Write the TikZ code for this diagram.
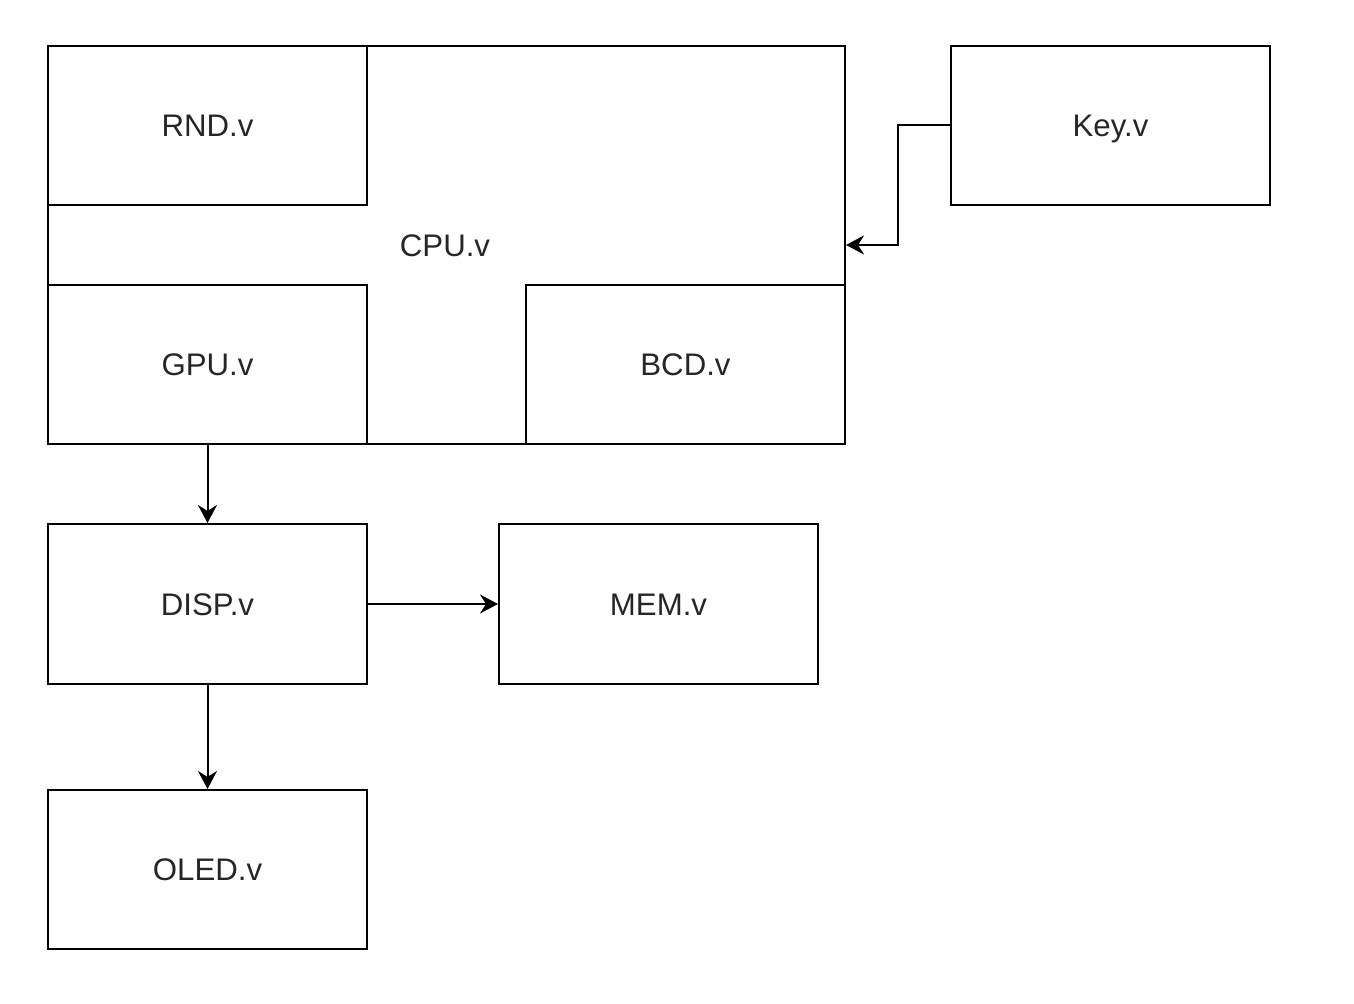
\documentclass[tikz,border=0pt]{standalone}
\usepackage{fontspec}
\setmainfont{Liberation Sans}
\usetikzlibrary{arrows.meta}
\begin{document}
\begin{tikzpicture}[x=0.5pt,y=-0.5pt,
  box/.style={draw=black,line width=1pt,inner sep=0pt,font=\fontsize{15.6}{18}\selectfont,text=black!85,text height=11.2pt,text depth=0pt},
  conn/.style={draw=black,line width=1pt,-{Stealth[length=9pt,width=9.5pt,inset=3pt]}},
  lbl/.style={font=\fontsize{15.6}{18}\selectfont,text=black!85,text height=11.2pt,text depth=0pt,inner sep=0pt}]
\useasboundingbox (0,0) rectangle (1354,1004);
\node[box,minimum width=797pt*0.5,minimum height=398pt*0.5] (cpu) at (446.5,245) {};
\node[lbl] (cputxt) at (445,245) {CPU.v};
\node[box,minimum width=319*0.5pt,minimum height=159*0.5pt] (rnd) at (207.5,125.5) {RND.v};
\node[box,minimum width=319*0.5pt,minimum height=159*0.5pt] (gpu) at (207.5,364.5) {GPU.v};
\node[box,minimum width=319*0.5pt,minimum height=159*0.5pt] (bcd) at (685.5,364.5) {BCD.v};
\node[box,minimum width=319*0.5pt,minimum height=159*0.5pt] (key) at (1110.5,125.5) {Key.v};
\node[box,minimum width=319*0.5pt,minimum height=160*0.5pt] (disp) at (207.5,604) {DISP.v};
\node[box,minimum width=319*0.5pt,minimum height=160*0.5pt] (mem) at (658.5,604) {MEM.v};
\node[box,minimum width=319*0.5pt,minimum height=159*0.5pt] (oled) at (207.5,869.5) {OLED.v};
\draw[conn] (key.west) -- (898,125.5) |- (cpu.east);
\draw[conn] (gpu.south) -- (disp.north);
\draw[conn] (disp.east) -- (mem.west);
\draw[conn] (disp.south) -- (oled.north);
\end{tikzpicture}
\end{document}
